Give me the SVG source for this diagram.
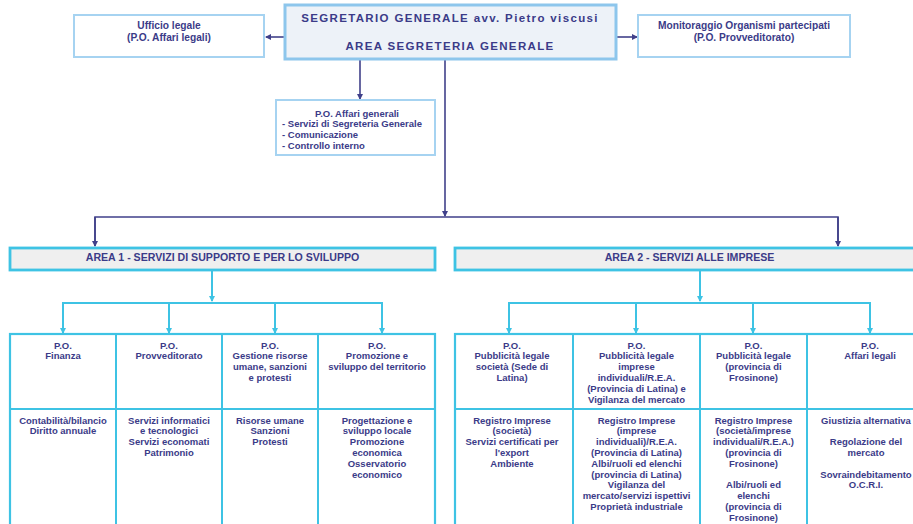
<svg xmlns="http://www.w3.org/2000/svg" width="913" height="524" viewBox="0 0 913 524">
<style>
text{font-family:"Liberation Sans",Arial,sans-serif;font-weight:bold;fill:#3b3b88;}
.t{font-size:9.5px;text-anchor:middle;}
.s{font-size:10.2px;text-anchor:middle;}
.a{font-size:10.6px;text-anchor:middle;}
.title{font-size:11.5px;letter-spacing:1.35px;text-anchor:middle;}
.pl{fill:none;stroke:#40408a;stroke-width:1.6;}
.cy{fill:none;stroke:#3ec3e4;stroke-width:2;}
.box{fill:#ffffff;stroke:#a6d3f1;stroke-width:2;}
.area{fill:#efefef;stroke:#3ec3e4;stroke-width:2.8;}
.grid{fill:#ffffff;stroke:#3ec3e4;stroke-width:2.2;}
</style>
<defs>
<marker id="ap" markerWidth="6" markerHeight="6" refX="5" refY="3" orient="auto" markerUnits="userSpaceOnUse"><path d="M0,0 L6,3 L0,6 Z" fill="#40408a"/></marker>
<marker id="ac" markerWidth="6" markerHeight="6" refX="5" refY="3" orient="auto" markerUnits="userSpaceOnUse"><path d="M0,0 L6,3 L0,6 Z" fill="#3ec3e4"/></marker>
</defs>
<rect width="913" height="524" fill="#ffffff"/>

<g id="connectors">
<path class="pl" d="M285,37 H266" marker-end="url(#ap)"/>
<path class="pl" d="M616,37 H637" marker-end="url(#ap)"/>
<path class="pl" d="M360,59 V99" marker-end="url(#ap)"/>
<path class="pl" d="M445,59 V216" marker-end="url(#ap)"/>
<path class="pl" d="M95,246 V217 H838 V246"/>
<path class="pl" d="M95,217 V246" marker-end="url(#ap)"/>
<path class="pl" d="M838,217 V246" marker-end="url(#ap)"/>
<path class="cy" d="M212,271 V301" marker-end="url(#ac)"/>
<path class="cy" d="M63,333 V303 H382 V333"/>
<path class="cy" d="M63,303 V333" marker-end="url(#ac)"/>
<path class="cy" d="M169,303 V333" marker-end="url(#ac)"/>
<path class="cy" d="M275,303 V333" marker-end="url(#ac)"/>
<path class="cy" d="M382,303 V333" marker-end="url(#ac)"/>
<path class="cy" d="M700,271 V301" marker-end="url(#ac)"/>
<path class="cy" d="M509,333 V303 H870 V333"/>
<path class="cy" d="M509,303 V333" marker-end="url(#ac)"/>
<path class="cy" d="M636,303 V333" marker-end="url(#ac)"/>
<path class="cy" d="M753,303 V333" marker-end="url(#ac)"/>
<path class="cy" d="M870,303 V333" marker-end="url(#ac)"/>
</g>

<g id="segretario">
<rect x="285" y="5" width="331" height="54" fill="#edf2f8" stroke="#8dc6ec" stroke-width="3"/>
<text class="title" x="450" y="21.5">SEGRETARIO GENERALE avv. Pietro viscusi</text>
<text class="title" x="450" y="49.5">AREA SEGRETERIA GENERALE</text>
</g>

<g id="ufficio-legale">
<rect class="box" x="74" y="15" width="190" height="42"/>
<text class="s" x="169" y="29">Ufficio legale</text>
<text class="s" x="169" y="40.5">(P.O. Affari legali)</text>
</g>

<g id="monitoraggio">
<rect class="box" x="638" y="15" width="212" height="42"/>
<text class="s" x="744" y="29">Monitoraggio Organismi partecipati</text>
<text class="s" x="744" y="40.5">(P.O. Provveditorato)</text>
</g>

<g id="affari-generali">
<rect class="box" x="276" y="100" width="159" height="55"/>
<text class="t" x="357" y="116.5">P.O. Affari generali</text>
<text class="t" x="282" y="126.5" style="text-anchor:start">- Servizi di Segreteria Generale</text>
<text class="t" x="282" y="137.5" style="text-anchor:start">- Comunicazione</text>
<text class="t" x="282" y="148.5" style="text-anchor:start">- Controllo interno</text>
</g>

<g id="area1">
<rect class="area" x="10" y="248" width="425" height="22"/>
<text class="a" x="222.5" y="260.5">AREA 1 - SERVIZI DI SUPPORTO E PER LO SVILUPPO</text>
</g>

<g id="area2">
<rect class="area" x="455" y="248" width="470" height="22"/>
<text class="a" x="689.5" y="260.5">AREA 2 - SERVIZI ALLE IMPRESE</text>
</g>

<g id="area1-table">
<rect class="grid" x="10" y="334" width="425" height="200"/>
<path class="cy" d="M116,334 V534 M222,334 V534 M318,334 V534 M10,409 H435" stroke-width="2.2"/>
</g>
<g id="po-finanza">
<text class="t" x="63" y="348.5">P.O.<tspan x="63" dy="10.8">Finanza</tspan></text>
<text class="t" x="63" y="423.5">Contabilità/bilancio<tspan x="63" dy="10.8">Diritto annuale</tspan></text>
</g>
<g id="po-provveditorato">
<text class="t" x="169" y="348.5">P.O.<tspan x="169" dy="10.8">Provveditorato</tspan></text>
<text class="t" x="169" y="423.5">Servizi informatici<tspan x="169" dy="10.8">e tecnologici</tspan><tspan x="169" dy="10.8">Servizi economati</tspan><tspan x="169" dy="10.8">Patrimonio</tspan></text>
</g>
<g id="po-risorse-umane">
<text class="t" x="270" y="348.5">P.O.<tspan x="270" dy="10.8">Gestione risorse</tspan><tspan x="270" dy="10.8">umane, sanzioni</tspan><tspan x="270" dy="10.8">e protesti</tspan></text>
<text class="t" x="270" y="423.5">Risorse umane<tspan x="270" dy="10.8">Sanzioni</tspan><tspan x="270" dy="10.8">Protesti</tspan></text>
</g>
<g id="po-promozione">
<text class="t" x="377" y="348.5">P.O.<tspan x="377" dy="10.8">Promozione e</tspan><tspan x="377" dy="10.8">sviluppo del territorio</tspan></text>
<text class="t" x="377" y="423.5">Progettazione e<tspan x="377" dy="10.8">sviluppo locale</tspan><tspan x="377" dy="10.8">Promozione</tspan><tspan x="377" dy="10.8">economica</tspan><tspan x="377" dy="10.8">Osservatorio</tspan><tspan x="377" dy="10.8">economico</tspan></text>
</g>

<g id="area2-table">
<rect class="grid" x="455" y="334" width="480" height="200"/>
<path class="cy" d="M573,334 V534 M700,334 V534 M807,334 V534 M455,409 H935" stroke-width="2.2"/>
</g>
<g id="po-pubblicita-societa">
<text class="t" x="512" y="348.5">P.O.<tspan x="512" dy="10.8">Pubblicità legale</tspan><tspan x="512" dy="10.8">società (Sede di</tspan><tspan x="512" dy="10.8">Latina)</tspan></text>
<text class="t" x="512" y="423.5">Registro Imprese<tspan x="512" dy="10.8">(società)</tspan><tspan x="512" dy="10.8">Servizi certificati per</tspan><tspan x="512" dy="10.8">l'export</tspan><tspan x="512" dy="10.8">Ambiente</tspan></text>
</g>
<g id="po-pubblicita-imprese">
<text class="t" x="636.5" y="348.5">P.O.<tspan x="636.5" dy="10.8">Pubblicità legale</tspan><tspan x="636.5" dy="10.8">imprese</tspan><tspan x="636.5" dy="10.8">individuali/R.E.A.</tspan><tspan x="636.5" dy="10.8">(Provincia di Latina) e</tspan><tspan x="636.5" dy="10.8">Vigilanza del mercato</tspan></text>
<text class="t" x="636.5" y="423.5">Registro Imprese<tspan x="636.5" dy="10.8">(imprese</tspan><tspan x="636.5" dy="10.8">individuali)/R.E.A.</tspan><tspan x="636.5" dy="10.8">(Provincia di Latina)</tspan><tspan x="636.5" dy="10.8">Albi/ruoli ed elenchi</tspan><tspan x="636.5" dy="10.8">(provincia di Latina)</tspan><tspan x="636.5" dy="10.8">Vigilanza del</tspan><tspan x="636.5" dy="10.8">mercato/servizi ispettivi</tspan><tspan x="636.5" dy="10.8">Proprietà industriale</tspan></text>
</g>
<g id="po-pubblicita-frosinone">
<text class="t" x="753.5" y="348.5">P.O.<tspan x="753.5" dy="10.8">Pubblicità legale</tspan><tspan x="753.5" dy="10.8">(provincia di</tspan><tspan x="753.5" dy="10.8">Frosinone)</tspan></text>
<text class="t" x="753.5" y="423.5">Registro Imprese<tspan x="753.5" dy="10.8">(società/imprese</tspan><tspan x="753.5" dy="10.8">individuali/R.E.A.)</tspan><tspan x="753.5" dy="10.8">(provincia di</tspan><tspan x="753.5" dy="10.8">Frosinone)</tspan><tspan x="753.5" dy="21.6">Albi/ruoli ed</tspan><tspan x="753.5" dy="10.8">elenchi</tspan><tspan x="753.5" dy="10.8">(provincia di</tspan><tspan x="753.5" dy="10.8">Frosinone)</tspan></text>
</g>
<g id="po-affari-legali">
<text class="t" x="870" y="348.5">P.O.<tspan x="870" dy="10.8">Affari legali</tspan></text>
<text class="t" x="866" y="423.5">Giustizia alternativa<tspan x="866" dy="21.6">Regolazione del</tspan><tspan x="866" dy="10.8">mercato</tspan><tspan x="866" dy="21.6">Sovraindebitamento</tspan><tspan x="866" dy="10.8">O.C.R.I.</tspan></text>
</g>
</svg>
